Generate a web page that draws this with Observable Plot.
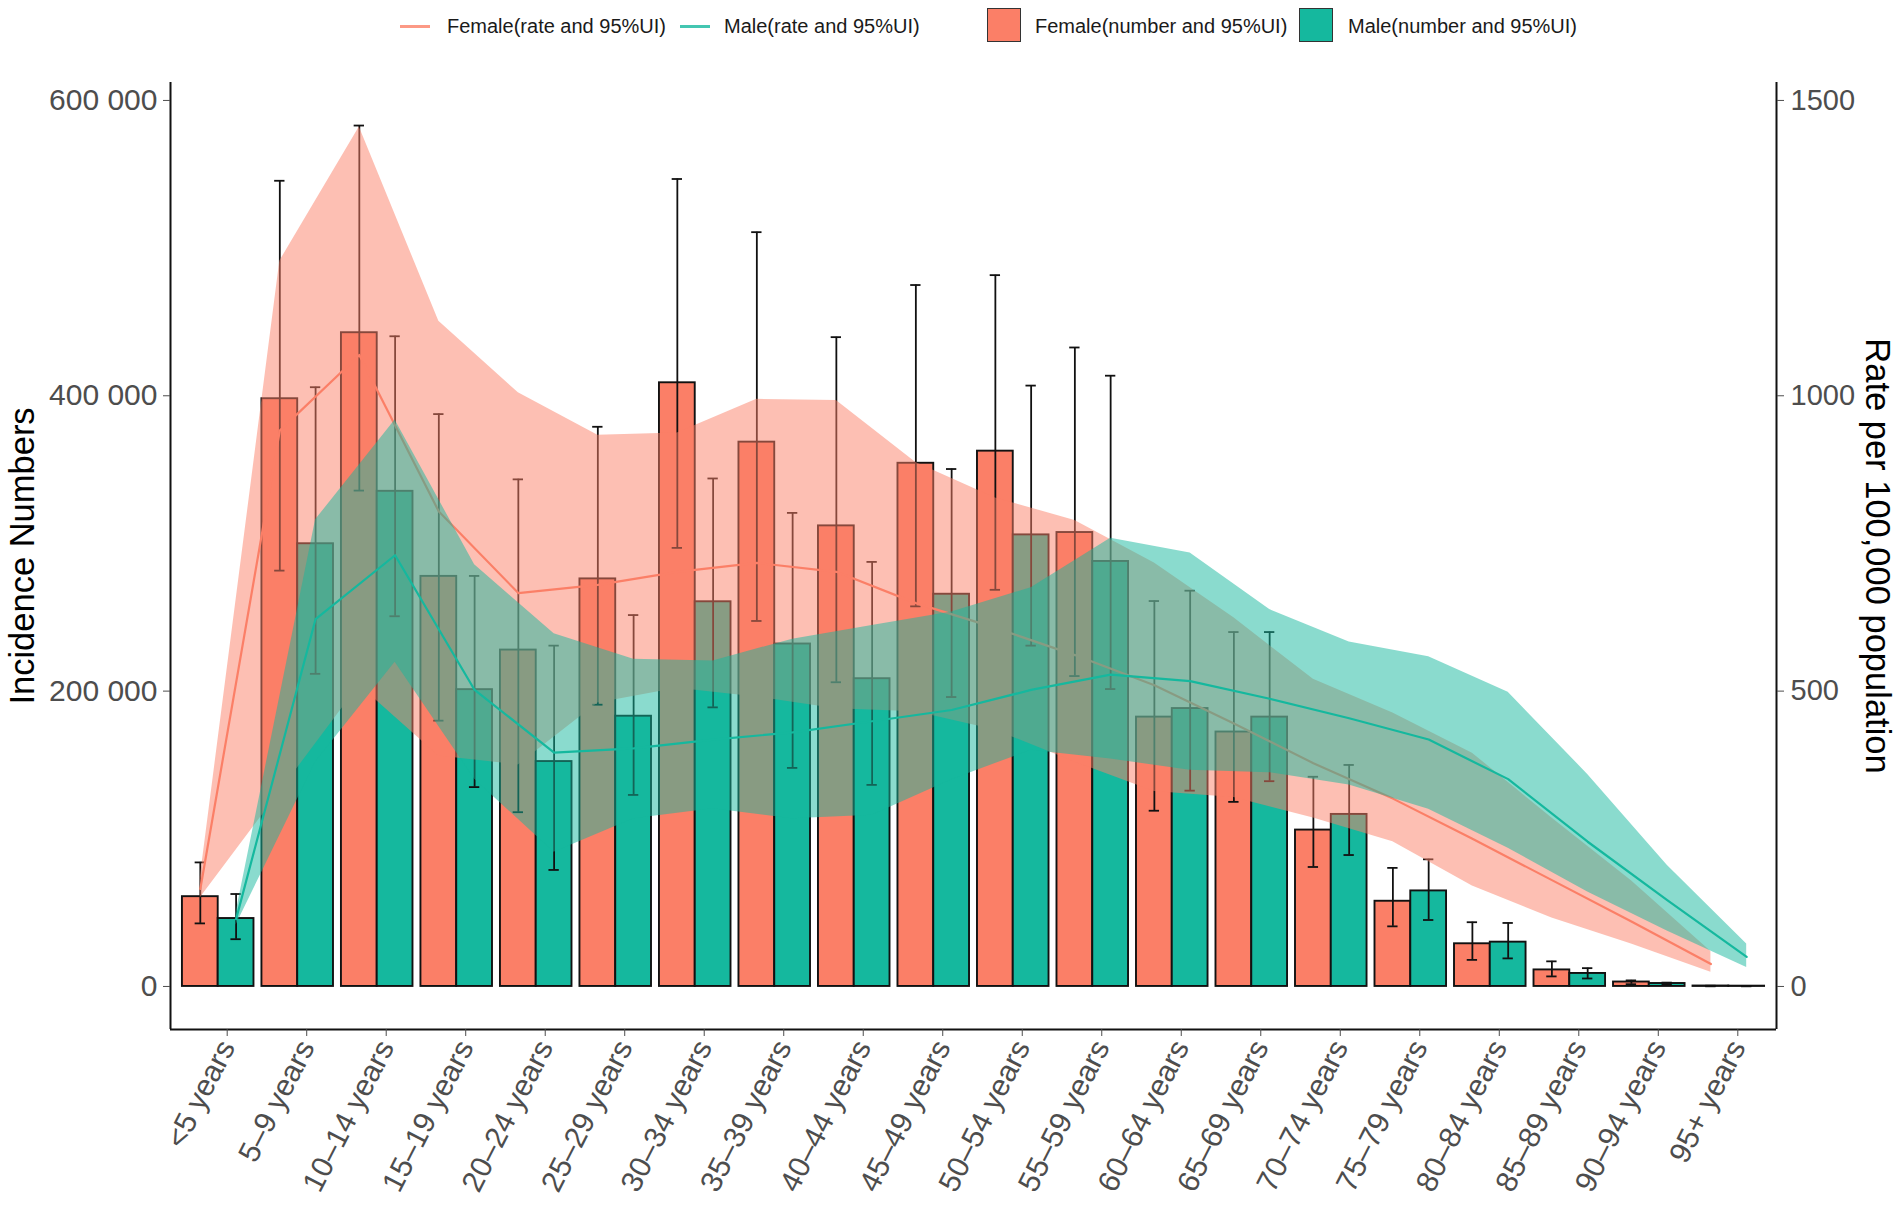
<!DOCTYPE html>
<html>
<head>
<meta charset="utf-8">
<script src="https://cdn.jsdelivr.net/npm/d3@7"></script>
<script src="https://cdn.jsdelivr.net/npm/@observablehq/plot@0.6"></script>
<style>
  body { margin: 0; background: #ffffff; font-family: "Liberation Sans", Arial, sans-serif; }
  #wrap { position: relative; width: 1902px; height: 1209px; background: #fff; }
  #legend { position: relative; width: 1902px; height: 50px; }
  .lkey { position: absolute; }
  .ltext { position: absolute; top: 14px; font-size: 20px; line-height: 24px; color: #1a1a1a; white-space: nowrap; }
</style>
</head>
<body>
<div id="wrap">
  <div id="legend"></div>
  <div id="chart"></div>
</div>
<script>
// ---------- data ----------
const ageLabels = ["<5 years","5–9 years","10–14 years","15–19 years","20–24 years","25–29 years",
  "30–34 years","35–39 years","40–44 years","45–49 years","50–54 years","55–59 years",
  "60–64 years","65–69 years","70–74 years","75–79 years","80–84 years","85–89 years",
  "90–94 years","95+ years"];

// incidence numbers, thousands
const femaleNum   = [60.8, 398.0, 442.7, 277.7, 227.8, 276.0, 408.8, 368.6, 311.9, 354.3, 362.5, 307.4, 182.4, 172.3, 105.9, 57.7, 28.9, 11.2, 3.0, 0.3];
const femaleNumLo = [42.7, 281.6, 335.8, 180.0, 118.0, 190.8, 297.0, 247.5, 206.0, 257.4, 268.6, 210.2, 119.0, 125.0, 80.9, 40.7, 18.0, 6.8, 1.5, 0.1];
const femaleNumHi = [84.0, 545.6, 583.0, 387.6, 343.4, 379.0, 546.8, 510.8, 439.7, 475.0, 481.7, 432.7, 261.0, 240.0, 142.0, 80.3, 43.5, 17.0, 4.1, 0.5];
const maleNum     = [46.0, 299.8, 335.3, 201.0, 152.3, 183.0, 260.5, 231.9, 208.4, 265.6, 305.8, 287.8, 188.2, 182.4, 116.5, 64.7, 30.0, 8.8, 2.0, 0.2];
const maleNumLo   = [32.0, 211.7, 250.7, 135.0, 78.9, 129.7, 189.0, 148.0, 136.5, 196.0, 230.8, 201.4, 132.6, 139.0, 89.0, 45.0, 19.0, 5.4, 1.3, 0.1];
const maleNumHi   = [62.6, 405.8, 440.3, 278.0, 230.8, 251.5, 344.0, 320.7, 287.5, 350.4, 406.9, 413.6, 268.0, 240.0, 150.0, 86.1, 43.0, 12.4, 2.6, 0.3];

// rate per 100,000 population
const femaleRate   = [165, 941, 1069, 804, 666, 680, 702, 717, 702, 649, 607, 561, 510, 445, 378, 318, 250, 180, 110, 38];
const femaleRateLo = [150, 330, 510, 390, 375, 480, 505, 490, 470, 465, 434, 380, 330, 320, 285, 245, 170, 116, 72, 24];
const femaleRateHi = [185, 1228, 1455, 1126, 1005, 933, 937, 994, 992, 887, 827, 789, 717, 624, 520, 463, 395, 285, 179, 59];
const maleRate     = [114, 622, 730, 502, 396, 403, 418, 430, 449, 468, 502, 528, 517, 487, 454, 418, 351, 245, 146, 50];
const maleRateLo   = [104, 380, 549, 351, 227, 284, 301, 284, 290, 350, 400, 385, 366, 362, 341, 300, 234, 160, 94, 32];
const maleRateHi   = [125, 790, 959, 714, 597, 554, 551, 588, 611, 634, 675, 759, 734, 638, 583, 558, 498, 359, 205, 72];

const leftTicks  = [0, 200000, 400000, 600000];
const rightTicks = [0, 500, 1000, 1500];

// ---------- settings ----------
const RATE_SCALE = 400;          // secondary axis: number = rate * 400
const FEMALE = "#FB7F67";
const MALE = "#15B89E";
const xDomain = [-0.6, 19.6];
const yDomain = [-29150, 612150];
const DODGE = 0.225, HALF = 0.45, CAP = 0.065;

const rows = ageLabels.map((a, i) => ({
  i, age: a,
  fN: femaleNum[i] * 1000, fLo: femaleNumLo[i] * 1000, fHi: femaleNumHi[i] * 1000,
  mN: maleNum[i] * 1000, mLo: maleNumLo[i] * 1000, mHi: maleNumHi[i] * 1000,
  fR: femaleRate[i] * RATE_SCALE, fRLo: femaleRateLo[i] * RATE_SCALE, fRHi: femaleRateHi[i] * RATE_SCALE,
  mR: maleRate[i] * RATE_SCALE, mRLo: maleRateLo[i] * RATE_SCALE, mRHi: maleRateHi[i] * RATE_SCALE
}));

// ---------- legend ----------
const legendItems = [
  {type: "line", color: FEMALE, label: "Female(rate and 95%UI)", kx: 400, tx: 447},
  {type: "line", color: MALE, label: "Male(rate and 95%UI)", kx: 680, tx: 724},
  {type: "box", color: FEMALE, label: "Female(number and 95%UI)", kx: 987, tx: 1035},
  {type: "box", color: MALE, label: "Male(number and 95%UI)", kx: 1299, tx: 1348}
];
const legend = document.getElementById("legend");
for (const it of legendItems) {
  const k = document.createElement("div");
  k.className = "lkey";
  if (it.type === "line") {
    Object.assign(k.style, {left: it.kx + "px", top: "25px", width: "30px", height: "3px", background: it.color, opacity: "0.8"});
  } else {
    Object.assign(k.style, {left: it.kx + "px", top: "8px", width: "32px", height: "32px", background: it.color, border: "1.5px solid #333"});
  }
  legend.appendChild(k);
  const t = document.createElement("div");
  t.className = "ltext";
  t.style.left = it.tx + "px";
  t.textContent = it.label;
  legend.appendChild(t);
}

// ---------- chart ----------
const fx = d => d.i - DODGE, mx = d => d.i + DODGE;
const numFmt = d => d3.format(",")(d).replace(/,/g, " ");

const chart = Plot.plot({
  width: 1902,
  height: 1159,
  marginTop: 32,
  marginBottom: 180,
  marginLeft: 170,
  marginRight: 126,
  style: {fontFamily: "Liberation Sans, Arial, sans-serif", background: "#ffffff", overflow: "visible"},
  x: {type: "linear", domain: xDomain},
  y: {domain: yDomain},
  marks: [
    // bars
    Plot.rect(rows, {x1: d => d.i - HALF, x2: d => d.i, y1: 0, y2: "fN", fill: FEMALE, stroke: "#111", strokeWidth: 1.9}),
    Plot.rect(rows, {x1: d => d.i, x2: d => d.i + HALF, y1: 0, y2: "mN", fill: MALE, stroke: "#111", strokeWidth: 1.9}),
    // error bars (numbers)
    Plot.ruleX(rows, {x: fx, y1: "fLo", y2: "fHi", stroke: "#111", strokeWidth: 1.8}),
    Plot.ruleY(rows, {y: "fHi", x1: d => fx(d) - CAP, x2: d => fx(d) + CAP, stroke: "#111", strokeWidth: 1.8}),
    Plot.ruleY(rows, {y: "fLo", x1: d => fx(d) - CAP, x2: d => fx(d) + CAP, stroke: "#111", strokeWidth: 1.8}),
    Plot.ruleX(rows, {x: mx, y1: "mLo", y2: "mHi", stroke: "#111", strokeWidth: 1.8}),
    Plot.ruleY(rows, {y: "mHi", x1: d => mx(d) - CAP, x2: d => mx(d) + CAP, stroke: "#111", strokeWidth: 1.8}),
    Plot.ruleY(rows, {y: "mLo", x1: d => mx(d) - CAP, x2: d => mx(d) + CAP, stroke: "#111", strokeWidth: 1.8}),
    // rate ribbons and lines
    Plot.area(rows, {x1: fx, y1: "fRLo", y2: "fRHi", fill: FEMALE, fillOpacity: 0.5}),
    Plot.line(rows, {x: fx, y: "fR", stroke: FEMALE, strokeWidth: 2.2}),
    Plot.area(rows, {x1: mx, y1: "mRLo", y2: "mRHi", fill: MALE, fillOpacity: 0.5}),
    Plot.line(rows, {x: mx, y: "mR", stroke: MALE, strokeWidth: 2.2}),
    // axis lines
    Plot.ruleX([xDomain[0], xDomain[1]], {y1: yDomain[0], y2: yDomain[1], stroke: "#111", strokeWidth: 2}),
    Plot.ruleY([yDomain[0]], {x1: xDomain[0], x2: xDomain[1], stroke: "#111", strokeWidth: 2}),
    // axes
    Plot.axisY({ticks: leftTicks, tickFormat: numFmt, tickSize: 7, tickPadding: 6, fontSize: 30, color: "#4D4D4D", label: null}),
    Plot.axisY({anchor: "right", ticks: rightTicks.map(r => r * RATE_SCALE), tickFormat: d => String(d / RATE_SCALE),
      tickSize: 7, tickPadding: 7, fontSize: 29, color: "#4D4D4D", label: null}),
    Plot.axisX({ticks: d3.range(ageLabels.length), tickFormat: i => ageLabels[i], tickRotate: -63, tickSize: 7,
      tickPadding: 6, dx: 9, fontSize: 30, color: "#4D4D4D", label: null}),
    // axis titles
    Plot.text(["Incidence Numbers"], {text: d => d, frameAnchor: "left", textAnchor: "middle", lineAnchor: "middle",
      rotate: -90, dx: -148, fontSize: 34.5, fill: "#000"}),
    Plot.text(["Rate per 100,000 population"], {text: d => d, frameAnchor: "right", textAnchor: "middle", lineAnchor: "middle",
      rotate: 90, dx: 101, fontSize: 34.5, fill: "#000"})
  ]
});
document.getElementById("chart").appendChild(chart);
</script>
</body>
</html>
